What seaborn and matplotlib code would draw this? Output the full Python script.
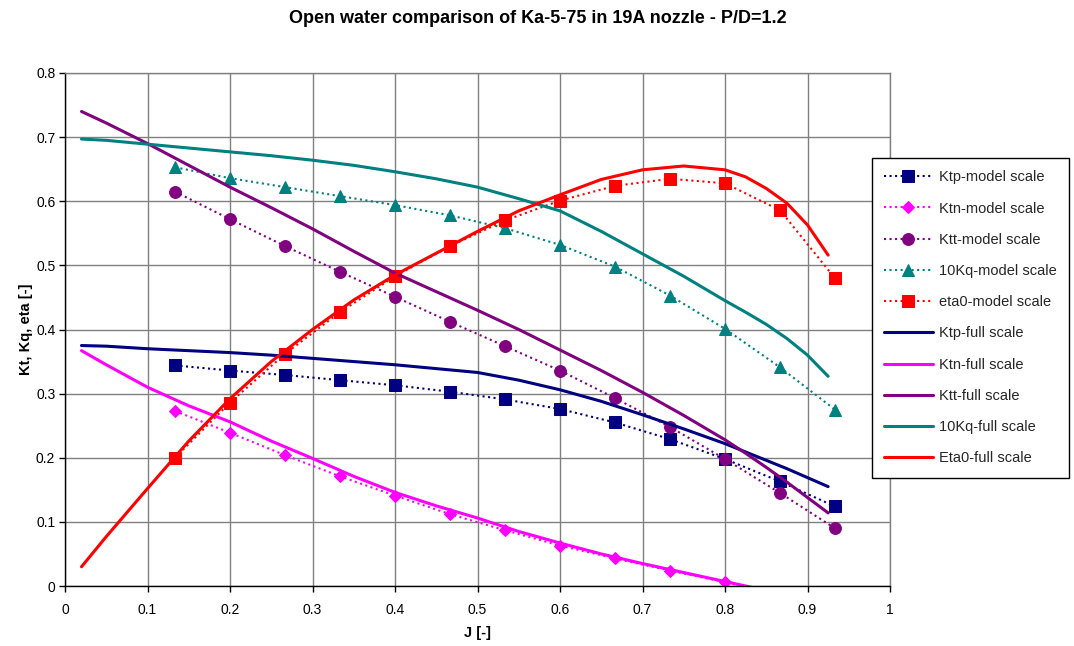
import matplotlib
matplotlib.use("Agg")
import matplotlib.pyplot as plt
import seaborn as sns
import pandas as pd

# ---- data ----
J_model = [0.1333, 0.2, 0.2667, 0.3333, 0.4, 0.4667, 0.5333, 0.6, 0.6667, 0.7333, 0.8, 0.8667, 0.9333]
ktp_model = [0.344, 0.336, 0.329, 0.321, 0.313, 0.303, 0.291, 0.276, 0.255, 0.229, 0.198, 0.163, 0.124]
ktn_model = [0.273, 0.239, 0.204, 0.171, 0.141, 0.112, 0.087, 0.063, 0.043, 0.024, 0.006, -0.015, -0.035]
ktt_model = [0.615, 0.572, 0.530, 0.490, 0.451, 0.412, 0.374, 0.336, 0.293, 0.248, 0.198, 0.145, 0.090]
kq10_model = [0.653, 0.636, 0.622, 0.608, 0.594, 0.578, 0.558, 0.532, 0.498, 0.453, 0.401, 0.341, 0.275]
eta_model = [0.200, 0.286, 0.362, 0.427, 0.483, 0.530, 0.570, 0.601, 0.624, 0.635, 0.628, 0.586, 0.480]

J_full = [0.02, 0.05, 0.1, 0.15, 0.2, 0.25, 0.3, 0.35, 0.4, 0.45, 0.5, 0.55, 0.6, 0.65,
          0.7, 0.75, 0.8, 0.825, 0.85, 0.875, 0.9, 0.925]
ktp_full = [0.375, 0.374, 0.370, 0.367, 0.364, 0.360, 0.355, 0.350, 0.345, 0.339, 0.333,
            0.321, 0.306, 0.288, 0.267, 0.245, 0.222, 0.209, 0.196, 0.183, 0.169, 0.155]
ktn_full = [0.367, 0.345, 0.310, 0.281, 0.256, 0.226, 0.199, 0.171, 0.146, 0.125, 0.106,
            0.085, 0.067, 0.050, 0.035, 0.021, 0.007, 0.000, -0.007, -0.015, -0.022, -0.030]
ktt_full = [0.740, 0.722, 0.690, 0.656, 0.622, 0.590, 0.557, 0.522, 0.488, 0.459, 0.430,
            0.400, 0.368, 0.336, 0.302, 0.266, 0.228, 0.207, 0.185, 0.162, 0.138, 0.114]
kq10_full = [0.697, 0.695, 0.689, 0.683, 0.677, 0.671, 0.664, 0.656, 0.646, 0.635, 0.622,
             0.604, 0.585, 0.553, 0.518, 0.483, 0.445, 0.427, 0.408, 0.386, 0.360, 0.327]
eta_full = [0.030, 0.077, 0.152, 0.226, 0.292, 0.350, 0.400, 0.446, 0.485, 0.519, 0.553,
            0.585, 0.610, 0.634, 0.649, 0.655, 0.649, 0.638, 0.620, 0.597, 0.563, 0.516]

title = "Open water comparison of Ka-5-75 in 19A nozzle - P/D=1.2"
xlabel = "J [-]"
ylabel = "Kt, Kq, eta [-]"

NAVY, MAG, PURP, TEAL, RED = "#000080", "#FF00FF", "#800080", "#008080", "#FF0000"

model_series = [
    ("Ktp-model scale", ktp_model, NAVY, "s", 8.5),
    ("Ktn-model scale", ktn_model, MAG, "D", 6.5),
    ("Ktt-model scale", ktt_model, PURP, "o", 8.5),
    ("10Kq-model scale", kq10_model, TEAL, "^", 8.5),
    ("eta0-model scale", eta_model, RED, "s", 8.5),
]
full_series = [
    ("Ktp-full scale", ktp_full, NAVY),
    ("Ktn-full scale", ktn_full, MAG),
    ("Ktt-full scale", ktt_full, PURP),
    ("10Kq-full scale", kq10_full, TEAL),
    ("Eta0-full scale", eta_full, RED),
]

sns.set_theme(style="white")
plt.rcParams["font.family"] = ["Liberation Sans", "DejaVu Sans"]

fig = plt.figure(figsize=(10.74, 6.46), dpi=100)
ax = fig.add_axes([65 / 1074, 60 / 646, 825 / 1074, 513 / 646])

for lab, vals, col, mk, ms in model_series:
    df = pd.DataFrame({"J": J_model, "v": vals})
    sns.lineplot(data=df, x="J", y="v", ax=ax, color=col, linestyle=":", linewidth=1.5,
                 marker=mk, markersize=ms, markeredgecolor=col, markerfacecolor=col,
                 label=lab, sort=False, legend=False)
for lab, vals, col in full_series:
    df = pd.DataFrame({"J": J_full, "v": vals})
    sns.lineplot(data=df, x="J", y="v", ax=ax, color=col, linestyle="-", linewidth=2.2,
                 label=lab, sort=False, legend=False)

ax.set_xlim(0, 1)
ax.set_ylim(0, 0.8)
ax.set_xticks([i / 10 for i in range(11)])
ax.set_yticks([i / 10 for i in range(9)])
ax.set_xticklabels(["0"] + [f"{i/10:g}" for i in range(1, 10)] + ["1"])
ax.set_yticklabels(["0"] + [f"{i/10:g}" for i in range(1, 9)])
ax.grid(True, color="#808080", linewidth=1.0)
ax.set_axisbelow(True)
for s in ["top", "right"]:
    ax.spines[s].set_color("#808080")
    ax.spines[s].set_linewidth(1.0)
for s in ["left", "bottom"]:
    ax.spines[s].set_color("black")
    ax.spines[s].set_linewidth(1.0)
ax.tick_params(axis="both", which="major", direction="out", length=4, width=1,
               color="black", labelsize=10, labelcolor="black", left=True, bottom=True)
ax.tick_params(axis="x", pad=8)
ax.tick_params(axis="y", pad=3)
ax.set_xlabel(xlabel, fontsize=10.5, fontweight="bold", color="black", labelpad=7)
ax.set_ylabel(ylabel, fontsize=10.5, fontweight="bold", color="black", labelpad=2)

fig.suptitle(title, x=0.501, y=0.984, fontsize=13, fontweight="bold", color="black")

handles, labels = ax.get_legend_handles_labels()
leg = fig.legend(handles, labels, loc="upper left", bbox_to_anchor=(872 / 1074, 1 - 158 / 646),
                 frameon=True, fancybox=False, shadow=False, fontsize=10.5,
                 handlelength=3.3, labelspacing=1.18, borderpad=0.85, handletextpad=0.45,
                 borderaxespad=0)
leg.get_frame().set_edgecolor("black")
leg.get_frame().set_linewidth(1.0)
leg.get_frame().set_facecolor("white")
leg.get_frame().set_alpha(1)

fig.savefig("out.png", dpi=100, facecolor="white")
